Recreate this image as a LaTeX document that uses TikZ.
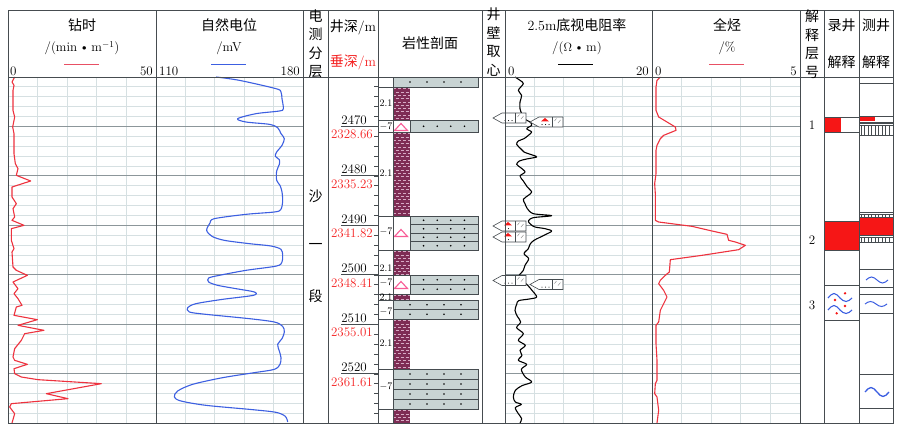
\documentclass[tikz,border=0pt]{standalone}
\usepackage{fontspec}
\newfontfamily\cjk{Noto Sans CJK SC}
\definecolor{gridlt}{RGB}{214,224,226}
\definecolor{griddk}{RGB}{140,150,154}
\definecolor{rule}{RGB}{70,76,80}
\definecolor{ropred}{RGB}{238,50,62}
\definecolor{legred}{RGB}{232,80,100}
\definecolor{spblue}{RGB}{60,95,225}
\definecolor{mud}{RGB}{126,44,84}
\definecolor{mudline}{RGB}{214,170,196}
\definecolor{sand}{RGB}{200,211,211}
\definecolor{fillred}{RGB}{246,22,22}
\definecolor{tripink}{RGB}{248,92,150}
\definecolor{depthred}{RGB}{245,35,35}
\tikzset{rulev/.style = {draw=rule, line width=1pt}}
\tikzset{thin rule/.style = {draw=rule, line width=0.6pt}}
\tikzset{hdr/.style = {inner sep=0, font=\fontsize{14}{18.5}\selectfont\cjk, align=center}}
\tikzset{scl/.style = {inner sep=0, font=\fontsize{13}{15}\selectfont}}
\tikzset{tinylab/.style = {inner sep=0, font=\fontsize{10}{11}\selectfont}}
\tikzset{logline/.style = {line width=1.1pt, line join=round}}
\tikzset{sandcell/.style = {fill=sand, draw=rule, line width=0.6pt}}
\newcommand{\depy}[1]{126.3+(#1-2470)*4.95}
\newcommand{\mudlayer}[2]{%
  \fill[mud] (393,#1) rectangle (410,#2);
  \begin{scope}
    \clip (393,#1) rectangle (410,#2);
    \foreach \k in {0,...,28}{
      \pgfmathsetmacro\ph{mod(\k,2)*2.5}
      \draw[mudline, line width=0.7pt, dash pattern=on 3pt off 2pt, dash phase=\ph pt] (393,{#1+1.7+3.3*\k}) -- (410,{#1+1.7+3.3*\k});
    }
  \end{scope}}
\newcommand{\sandlayer}[4]{%
  \pgfmathsetmacro\rowh{(#3-#2)/#4}
  \foreach \r in {1,...,#4}{
    \draw[sandcell] (#1,{#2+(\r-1)*\rowh}) rectangle (478,{#2+\r*\rowh});
    \foreach \f in {0.2,0.4,0.6,0.8}
      \fill ({#1+\f*(478-#1)},{#2+(\r-0.5)*\rowh}) circle (0.9pt);
  }}
\newcommand{\oiltri}[1]{\draw[tripink, line width=1.1pt] (394.5,{#1+3.5}) -- (407.5,{#1+3.5}) -- (401,{#1-3.5}) -- cycle;}
\newcommand{\coremark}[4]{%
  \draw[thin rule, fill=white] (#1,#2) -- ++(9,-5) -- ++(24,0) -- ++(0,10) -- ++(-24,0) -- cycle;
  \draw[thin rule] ({#1+22},{#2-5}) -- ++(0,10);
  \foreach \q in {#4} \fill ({#1+\q},{#2+2.6}) circle (0.6pt);
  \ifnum#3=1 \fill[fillred] ({#1+11},{#2-0.6}) -- ({#1+19},{#2-0.6}) -- ({#1+15},{#2-4}) -- cycle; \fi
  \draw[gray, line width=0.4pt] ({#1+24.5},{#2-1}) -- ++(2,-2.5) ({#1+28},{#2+1}) -- ++(2.5,-3);}
\newcommand{\hatchbox}[2]{%
  \draw[thin rule] (859,#1) rectangle (893,#2);
  \draw[thin rule] (859,{#1+1.8}) -- (893,{#1+1.8});
  \foreach \hx in {861,864.5,...,892} \draw[thin rule] (\hx,{#1+1.8}) -- (\hx,#2);}
\begin{document}
\begin{tikzpicture}[x=1pt, y=-1pt]
\useasboundingbox (0,0) rectangle (900,437);
\fill[white] (0,0) rectangle (900,437);
\foreach \l/\r in {8/156,156/303,505/652,652/800}{
  \foreach \d in {2462,2464,...,2528}
    \draw[gridlt, line width=0.8pt] (\l,{\depy{\d}}) -- (\r,{\depy{\d}});
  \foreach \k in {1,...,4}
    \draw[gridlt, line width=0.8pt] ({\l+\k*(\r-\l)/5},77) -- ({\l+\k*(\r-\l)/5},423);
  \foreach \d in {2470,2480,...,2520}
    \draw[griddk, line width=0.8pt] (\l,{\depy{\d}}) -- (\r,{\depy{\d}});
}
\mudlayer{87}{120.5}
\mudlayer{132}{216}
\mudlayer{250}{275}
\mudlayer{294}{300}
\mudlayer{319}{369}
\mudlayer{409}{423}
\sandlayer{393}{77}{87}{1}
\sandlayer{410}{120.5}{132}{1}
\sandlayer{410}{216}{250}{4}
\sandlayer{410}{275}{294}{2}
\sandlayer{393}{300}{319}{2}
\sandlayer{393}{369}{409}{4}
\draw[thin rule] (393,120.5) rectangle (410,132);
\draw[thin rule] (393,216) rectangle (410,250);
\draw[thin rule] (393,275) rectangle (410,294);
\oiltri{127}
\oiltri{233}
\oiltri{285}
\foreach \yy in {87,120.5,132,216,250,275,294,300,319,369,409}
  \draw[thin rule] (378,\yy) -- (393,\yy);
\foreach \d in {2462,2464,...,2528}
  \draw[thin rule] (374,{\depy{\d}}) -- (378,{\depy{\d}});
\foreach \yy/\t [count=\i] in {103/2.1, 173/2.1, 268/2.1, 297.5/2.1, 343/2.1, 127/{$-7$}, 232/{$-7$}, 283/{$-7$}, 312/{$-7$}, 387/{$-7$}}
  \node[tinylab] (lith\i) at (386,\yy) {\t};
\begin{scope}[shift={(8,77)}, scale=1/3]
\draw[ropred, logline] plot coordinates {(20,0) (12,15) (18,25) (15,40) (15,100) (20,120) (14,150) (18,170) (18,230) (22,260) (30,275) (25,295) (68,312) (12,330) (12,360) (25,380) (15,395) (20,420) (12,430) (48,445) (10,455) (10,490) (18,515) (12,525) (15,570) (25,580) (58,595) (15,615) (30,635) (18,650) (30,665) (42,685) (25,690) (18,715) (88,728) (30,745) (108,760) (50,770) (40,790) (20,815) (15,840) (20,850) (58,862) (18,875) (20,890) (40,900) (90,908) (280,920) (115,950) (180,965) (10,980) (5,990) (20,1010) (12,1038)};
\end{scope}
\begin{scope}[shift={(156,77)}, scale=1/3]
\draw[spblue, logline] plot[smooth] coordinates {(180,0) (250,10) (360,35) (375,45) (378,65) (382,95) (370,102) (300,110) (245,125) (270,135) (340,142) (365,152) (375,170) (385,185) (378,205) (362,225) (358,238) (370,248) (370,262) (362,282) (362,310) (372,325) (378,345) (380,375) (374,398) (355,405) (270,412) (175,425) (162,438) (152,460) (168,478) (205,490) (280,500) (345,507) (375,517) (380,535) (378,555) (362,567) (270,580) (190,595) (158,603) (158,615) (185,625) (240,635) (295,645) (292,655) (200,667) (120,680) (95,692) (100,705) (150,712) (280,725) (355,735) (380,748) (385,765) (378,785) (365,802) (370,822) (375,842) (372,862) (355,877) (295,887) (200,902) (110,922) (65,942) (55,960) (75,972) (150,985) (290,998) (360,1006) (388,1018) (395,1035)};
\end{scope}
\begin{scope}[shift={(500,77)}, scale=1/3]
\draw[black, logline] plot[smooth, tension=0.5] coordinates {(45,0) (60,10) (70,20) (55,40) (65,55) (60,75) (60,95) (65,110) (72,125) (90,135) (95,145) (80,155) (95,165) (85,175) (72,185) (55,192) (50,202) (62,215) (72,225) (100,235) (110,240) (80,246) (58,252) (50,262) (62,272) (75,285) (60,297) (70,312) (82,330) (95,345) (85,355) (70,367) (75,380) (82,395) (100,410) (155,416) (100,422) (85,432) (92,442) (105,450) (135,455) (155,462) (138,472) (102,490) (90,502) (85,515) (72,530) (86,545) (75,565) (70,580) (55,600) (72,615) (85,627) (96,640) (110,660) (88,666) (56,671) (50,682) (45,700) (52,718) (62,735) (50,752) (70,770) (55,790) (76,805) (60,820) (66,835) (55,850) (80,862) (64,877) (76,900) (95,915) (66,926) (46,940) (40,960) (46,975) (64,982) (46,992) (55,1010) (65,1025) (60,1038)};
\end{scope}
\begin{scope}[shift={(652,77)}, scale=1/3]
\draw[ropred, logline] plot coordinates {(25,0) (15,10) (12,30) (12,100) (20,120) (45,135) (70,150) (72,160) (35,175) (25,185) (15,205) (12,220) (12,290) (8,320) (10,350) (10,430) (20,435) (120,448) (180,462) (225,472) (230,490) (250,495) (280,505) (260,518) (150,535) (55,548) (52,585) (40,595) (25,610) (20,620) (35,640) (45,660) (35,680) (25,700) (20,735) (12,745) (12,800) (15,850) (15,910) (10,920) (8,950) (15,960) (20,1000) (15,1038)};
\end{scope}
\coremark{493}{118}{0}{12,15.5,19}
\coremark{530}{122}{1}{12,15.5,19}
\coremark{493}{226}{1}{15.5}
\coremark{493}{237}{1}{15.5}
\coremark{493}{280.5}{0}{12,15.5,19}
\coremark{530}{284.5}{0}{12,15.5,19}
\fill[fillred] (824,117) rectangle (841,132);
\draw[rulev] (824,117) rectangle (859,132);
\fill[fillred] (824,221) rectangle (859,250);
\draw[rulev] (824,221) rectangle (859,250);
\draw[rulev] (824,285) rectangle (859,320);
\draw[spblue, line width=1.1pt] (828,298) sin (834,293.5) cos (840,298) sin (846,301.5) cos (852,298);
\draw[spblue, line width=1.1pt] (828,310) sin (834,305.5) cos (840,310) sin (846,313.5) cos (852,310);
\foreach \px/\py in {845/293.3, 835/300, 845/306, 836.7/313.3}
  \fill[fillred] (\px,\py) circle (1.3pt);
\draw[thin rule] (859,83) -- (893,83);
\fill[fillred] (860,117) rectangle (875,120.5);
\draw[thin rule] (859,116.5) rectangle (893,122);
\hatchbox{123.5}{135}
\hatchbox{212.5}{217}
\fill[fillred] (859,217) rectangle (893,235);
\draw[thin rule] (859,217) rectangle (893,235);
\hatchbox{235}{242}
\foreach \yy in {269,287,294,313,374,408}
  \draw[thin rule] (859,\yy) -- (893,\yy);
\draw[spblue, line width=1pt] (866,280) sin (871.5,277) cos (877,280) sin (882.5,283) cos (888,280);
\draw[spblue, line width=1pt] (865,304) sin (870.5,301.5) cos (876,304) sin (881.5,306.5) cos (887,304);
\draw[spblue, line width=1.3pt] (865,392) sin (871,387.5) cos (877,392) sin (883,396.5) cos (889,392);
\draw[rulev] (8,10) rectangle (893,423);
\draw[rulev] (8,77) -- (893,77);
\foreach \x in {156,303,328,378,482,505,652,800,824,859}
  \draw[rulev] (\x,10) -- (\x,423);
\draw[thin rule] (393,77) -- (393,423);
\node[hdr] (hRop) at (82,25) {钻时};
\node[scl] (hRopU) at (82,48) {/(min\,\textbullet\,m$^{-1}$)};
\draw[legred, line width=1.2pt] (64,64.5) -- (99,64.5);
\node[scl, anchor=west] (sRopA) at (10,71) {0};
\node[scl, anchor=east] (sRopB) at (153,71) {50};
\node[hdr] (hSp) at (229,25) {自然电位};
\node[scl] (hSpU) at (229,48) {/mV};
\draw[spblue, line width=1.2pt] (211,64.5) -- (246,64.5);
\node[scl, anchor=west] (sSpA) at (159,71) {110};
\node[scl, anchor=east] (sSpB) at (300,71) {180};
\node[hdr] (hZone) at (315.5,44) {电\\测\\分\\层};
\node[hdr] (hDepth) at (353,27) {井深\rmfamily/m};
\node[hdr, text=depthred] (hTvd) at (353,62) {垂深\rmfamily/m};
\node[hdr] (hLith) at (430,43) {岩性剖面};
\node[hdr] (hCore) at (493.5,42) {井\\壁\\取\\心};
\node[hdr] (hRes) at (577,25) {\rmfamily 2.5m\cjk 底视电阻率};
\node[scl] (hResU) at (577,48) {/($\Omega$\,\textbullet\,m)};
\draw[black, line width=1.2pt] (558,64.5) -- (593,64.5);
\node[scl, anchor=west] (sResA) at (508,71) {0};
\node[scl, anchor=east] (sResB) at (649,71) {20};
\node[hdr] (hThc) at (727,25) {全烃};
\node[scl] (hThcU) at (727,48) {/\%};
\draw[legred, line width=1.2pt] (709,64.5) -- (744,64.5);
\node[scl, anchor=west] (sThcA) at (655,71) {0};
\node[scl, anchor=east] (sThcB) at (797,71) {5};
\node[hdr] (hNum) at (812,44) {解\\释\\层\\号};
\node[hdr] (hMud) at (841.5,25) {录井};
\node[hdr] (hMudB) at (841.5,62) {解释};
\node[hdr] (hWell) at (876,25) {测井};
\node[hdr] (hWellB) at (876,62) {解释};
\node[hdr] (zSha) at (315.5,196) {沙};
\node[hdr] (zYi) at (315.5,246) {一};
\node[hdr] (zDuan) at (315.5,296) {段};
\foreach \d/\v in {2470/2328.66, 2480/2335.23, 2490/2341.82, 2500/2348.41, 2510/2355.01, 2520/2361.61}{
  \draw[rulev, line width=0.7pt] (341,{\depy{\d}}) -- (378,{\depy{\d}});
  \node[scl, anchor=south] (md\d) at (354,{\depy{\d}-1.5}) {\d};
  \node[scl, anchor=north east, text=depthred] (vd\d) at (373,{\depy{\d}+3.5}) {\v};
}
\node[scl] (nOne) at (812,125) {1};
\node[scl] (nTwo) at (812,240) {2};
\node[scl] (nThree) at (812,305) {3};
\end{tikzpicture}
\end{document}
